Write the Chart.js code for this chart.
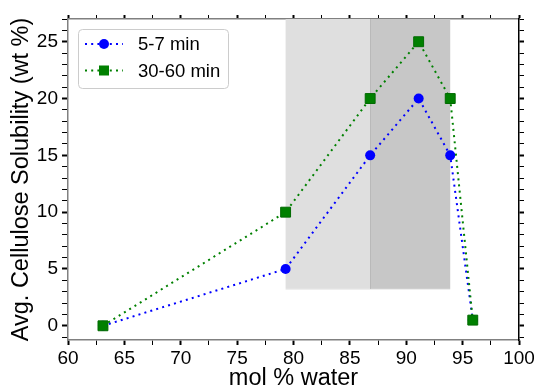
<!DOCTYPE html>
<html>
<head>
<meta charset="utf-8">
<script src="https://cdn.jsdelivr.net/npm/chart.js@4/dist/chart.umd.min.js"></script>
<style>
  html, body { margin: 0; padding: 0; background: #ffffff; }
  #wrap { width: 534px; height: 390px; position: relative; }
</style>
</head>
<body>
<div id="wrap"><canvas id="c" width="534" height="390"></canvas></div>
<script>
// ---- data ----
const waterX      = [63.1, 79.3, 86.8, 91.1, 93.9, 95.9];
const shortY      = [0, 5, 15, 20, 15, 0.5];      // 5-7 min
const longY       = [0, 10, 20, 25, 20, 0.5];     // 30-60 min
const seriesNames = ['5-7 min', '30-60 min'];
const xTickLabels = [60, 65, 70, 75, 80, 85, 90, 95, 100];
const yTickLabels = [0, 5, 10, 15, 20, 25];
const shadeFrom   = [79.3, 86.8];
const shadeTo     = [86.8, 93.9];
const shadeFloor  = 3.25;

const FONT = "'Liberation Sans', Arial, Helvetica, sans-serif";

function pts(xs, ys) { return xs.map((x, i) => ({ x: x, y: ys[i] })); }

const shadePlugin = {
  id: 'shade',
  beforeDatasetsDraw(chart) {
    const { ctx, chartArea: a, scales: { x, y } } = chart;
    const fills = ['#dfdfdf', '#c7c7c7'];
    ctx.save();
    const yb = y.getPixelForValue(shadeFloor);
    shadeFrom.forEach((f, i) => {
      const x0 = x.getPixelForValue(f), x1 = x.getPixelForValue(shadeTo[i]);
      ctx.fillStyle = fills[i];
      ctx.fillRect(x0, a.top, x1 - x0, yb - a.top);
    });
    ctx.strokeStyle = '#b9b9b9';
    ctx.lineWidth = 1;
    const xm = Math.round(x.getPixelForValue(shadeFrom[1])) + 0.5;
    ctx.beginPath(); ctx.moveTo(xm, a.top); ctx.lineTo(xm, yb); ctx.stroke();
    ctx.strokeStyle = '#eeeeee';
    ctx.beginPath();
    ctx.moveTo(x.getPixelForValue(shadeFrom[0]), Math.round(yb) + 0.5);
    ctx.lineTo(x.getPixelForValue(shadeTo[1]), Math.round(yb) + 0.5);
    ctx.stroke();
    ctx.restore();
  }
};

const legendPlugin = {
  id: 'boxLegend',
  afterDraw(chart) {
    const { ctx, chartArea: a } = chart;
    const lx = a.left + 10, ly = a.top + 10, w = 150, h = 59;
    ctx.save();
    ctx.beginPath();
    ctx.roundRect(lx + 0.5, ly + 0.5, w, h, 4);
    ctx.fillStyle = 'rgba(255,255,255,0.85)';
    ctx.fill();
    ctx.strokeStyle = '#cccccc';
    ctx.lineWidth = 1;
    ctx.stroke();
    const rows = [ly + 15, ly + 41.5];
    chart.data.datasets.forEach((ds) => {
      const cy = rows[ds.legendIndex];
      ctx.strokeStyle = ds.borderColor;
      ctx.lineWidth = 2;
      ctx.setLineDash(ds.borderDash);
      ctx.beginPath(); ctx.moveTo(lx + 7, cy); ctx.lineTo(lx + 45, cy); ctx.stroke();
      ctx.setLineDash([]);
      ctx.fillStyle = ds.pointBackgroundColor;
      if (ds.pointStyle === 'rect') {
        ctx.fillRect(lx + 26 - 5, cy - 5, 10, 10);
      } else {
        ctx.beginPath(); ctx.arc(lx + 26, cy, 5, 0, Math.PI * 2); ctx.fill();
      }
      ctx.fillStyle = '#000';
      ctx.font = '18.5px ' + FONT;
      ctx.textBaseline = 'middle';
      ctx.textAlign = 'left';
      ctx.fillText(ds.label, lx + 60, cy + 1);
    });
    ctx.restore();
  }
};

function tickW(ctx) {
  return ctx.tick && ctx.tick.major ? 2 : 1;
}

function makeTicks(labels, step, lo, hi) {
  const out = [];
  for (let v = lo; v <= hi + 1e-9; v += step) {
    const r = Math.round(v * 100) / 100;
    out.push({ value: r, major: labels.includes(r) });
  }
  return out;
}

const X_MIN = 60, X_MAX = 100, Y_MIN = -1.25, Y_MAX = 27;

function zeroPad(s) { s.paddingLeft = 0; s.paddingRight = 0; s.paddingTop = 0; s.paddingBottom = 0; }

new Chart(document.getElementById('c'), {
  type: 'scatter',
  data: {
    datasets: [
      {
        label: seriesNames[0], legendIndex: 0, order: 1,
        data: pts(waterX, shortY), showLine: true,
        borderColor: '#0000ff', borderWidth: 2, borderDash: [2, 4.2],
        pointStyle: 'circle', pointRadius: 5, pointHoverRadius: 5,
        pointBackgroundColor: '#0000ff', pointBorderColor: '#0000ff', pointBorderWidth: 0
      },
      {
        label: seriesNames[1], legendIndex: 1, order: 0,
        data: pts(waterX, longY), showLine: true,
        borderColor: '#008000', borderWidth: 2, borderDash: [2, 4.2],
        pointStyle: 'rect', pointRadius: 7, pointHoverRadius: 7,
        pointBackgroundColor: '#008000', pointBorderColor: '#006a00', pointBorderWidth: 1
      }
    ]
  },
  options: {
    responsive: false, animation: false, devicePixelRatio: 1,
    layout: { padding: 0 },
    plugins: { legend: { display: false }, tooltip: { enabled: false } },
    scales: {
      x: {
        type: 'linear', position: 'bottom', min: X_MIN, max: X_MAX,
        afterBuildTicks: s => { s.ticks = makeTicks(xTickLabels, 2.5, X_MIN, X_MAX); },
        afterFit: s => { s.height = 50; zeroPad(s); },
        border: { display: true, color: '#808080', width: 1.5 },
        grid: { drawOnChartArea: false, drawTicks: true, tickLength: 5, tickColor: '#000', tickWidth: tickW },
        ticks: {
          color: '#000', font: { family: FONT, size: 19 }, padding: 2, maxRotation: 0, autoSkip: false,
          callback: v => xTickLabels.includes(v) ? String(v) : ''
        },
        title: { display: true, text: 'mol % water', color: '#000', font: { family: FONT, size: 23.5, lineHeight: 1 }, padding: { top: 0, bottom: 0 } }
      },
      x2: {
        type: 'linear', position: 'top', min: X_MIN, max: X_MAX,
        afterBuildTicks: s => { s.ticks = makeTicks(xTickLabels, 2.5, X_MIN, X_MAX); },
        afterFit: s => { s.height = 19; zeroPad(s); },
        border: { display: true, color: '#808080', width: 1.5 },
        grid: { drawOnChartArea: false, drawTicks: true, tickLength: 4, tickColor: '#000', tickWidth: tickW },
        ticks: { display: false }
      },
      y: {
        type: 'linear', position: 'left', min: Y_MIN, max: Y_MAX,
        afterBuildTicks: s => { s.ticks = makeTicks(yTickLabels, 1, -1, Y_MAX); },
        afterFit: s => { s.width = 68; zeroPad(s); },
        border: { display: true, color: '#808080', width: 1.5 },
        grid: { drawOnChartArea: false, drawTicks: true, tickLength: 6, tickColor: '#000', tickWidth: tickW },
        ticks: {
          color: '#000', font: { family: FONT, size: 19 }, padding: 4, autoSkip: false,
          callback: v => yTickLabels.includes(v) ? String(v) : ''
        },
        title: { display: true, text: 'Avg. Cellulose Solubility (wt %)', color: '#000', font: { family: FONT, size: 23.5, lineHeight: 1 }, padding: { top: 9.5, bottom: 0 } }
      },
      y2: {
        type: 'linear', position: 'right', min: Y_MIN, max: Y_MAX,
        afterBuildTicks: s => { s.ticks = makeTicks(yTickLabels, 1, -1, Y_MAX); },
        afterFit: s => { s.width = 15; zeroPad(s); },
        border: { display: true, color: '#000', width: 1.5 },
        grid: { drawOnChartArea: false, drawTicks: true, tickLength: 5, tickColor: '#000', tickWidth: tickW },
        ticks: { display: false }
      }
    }
  },
  plugins: [shadePlugin, legendPlugin]
});
</script>
</body>
</html>
